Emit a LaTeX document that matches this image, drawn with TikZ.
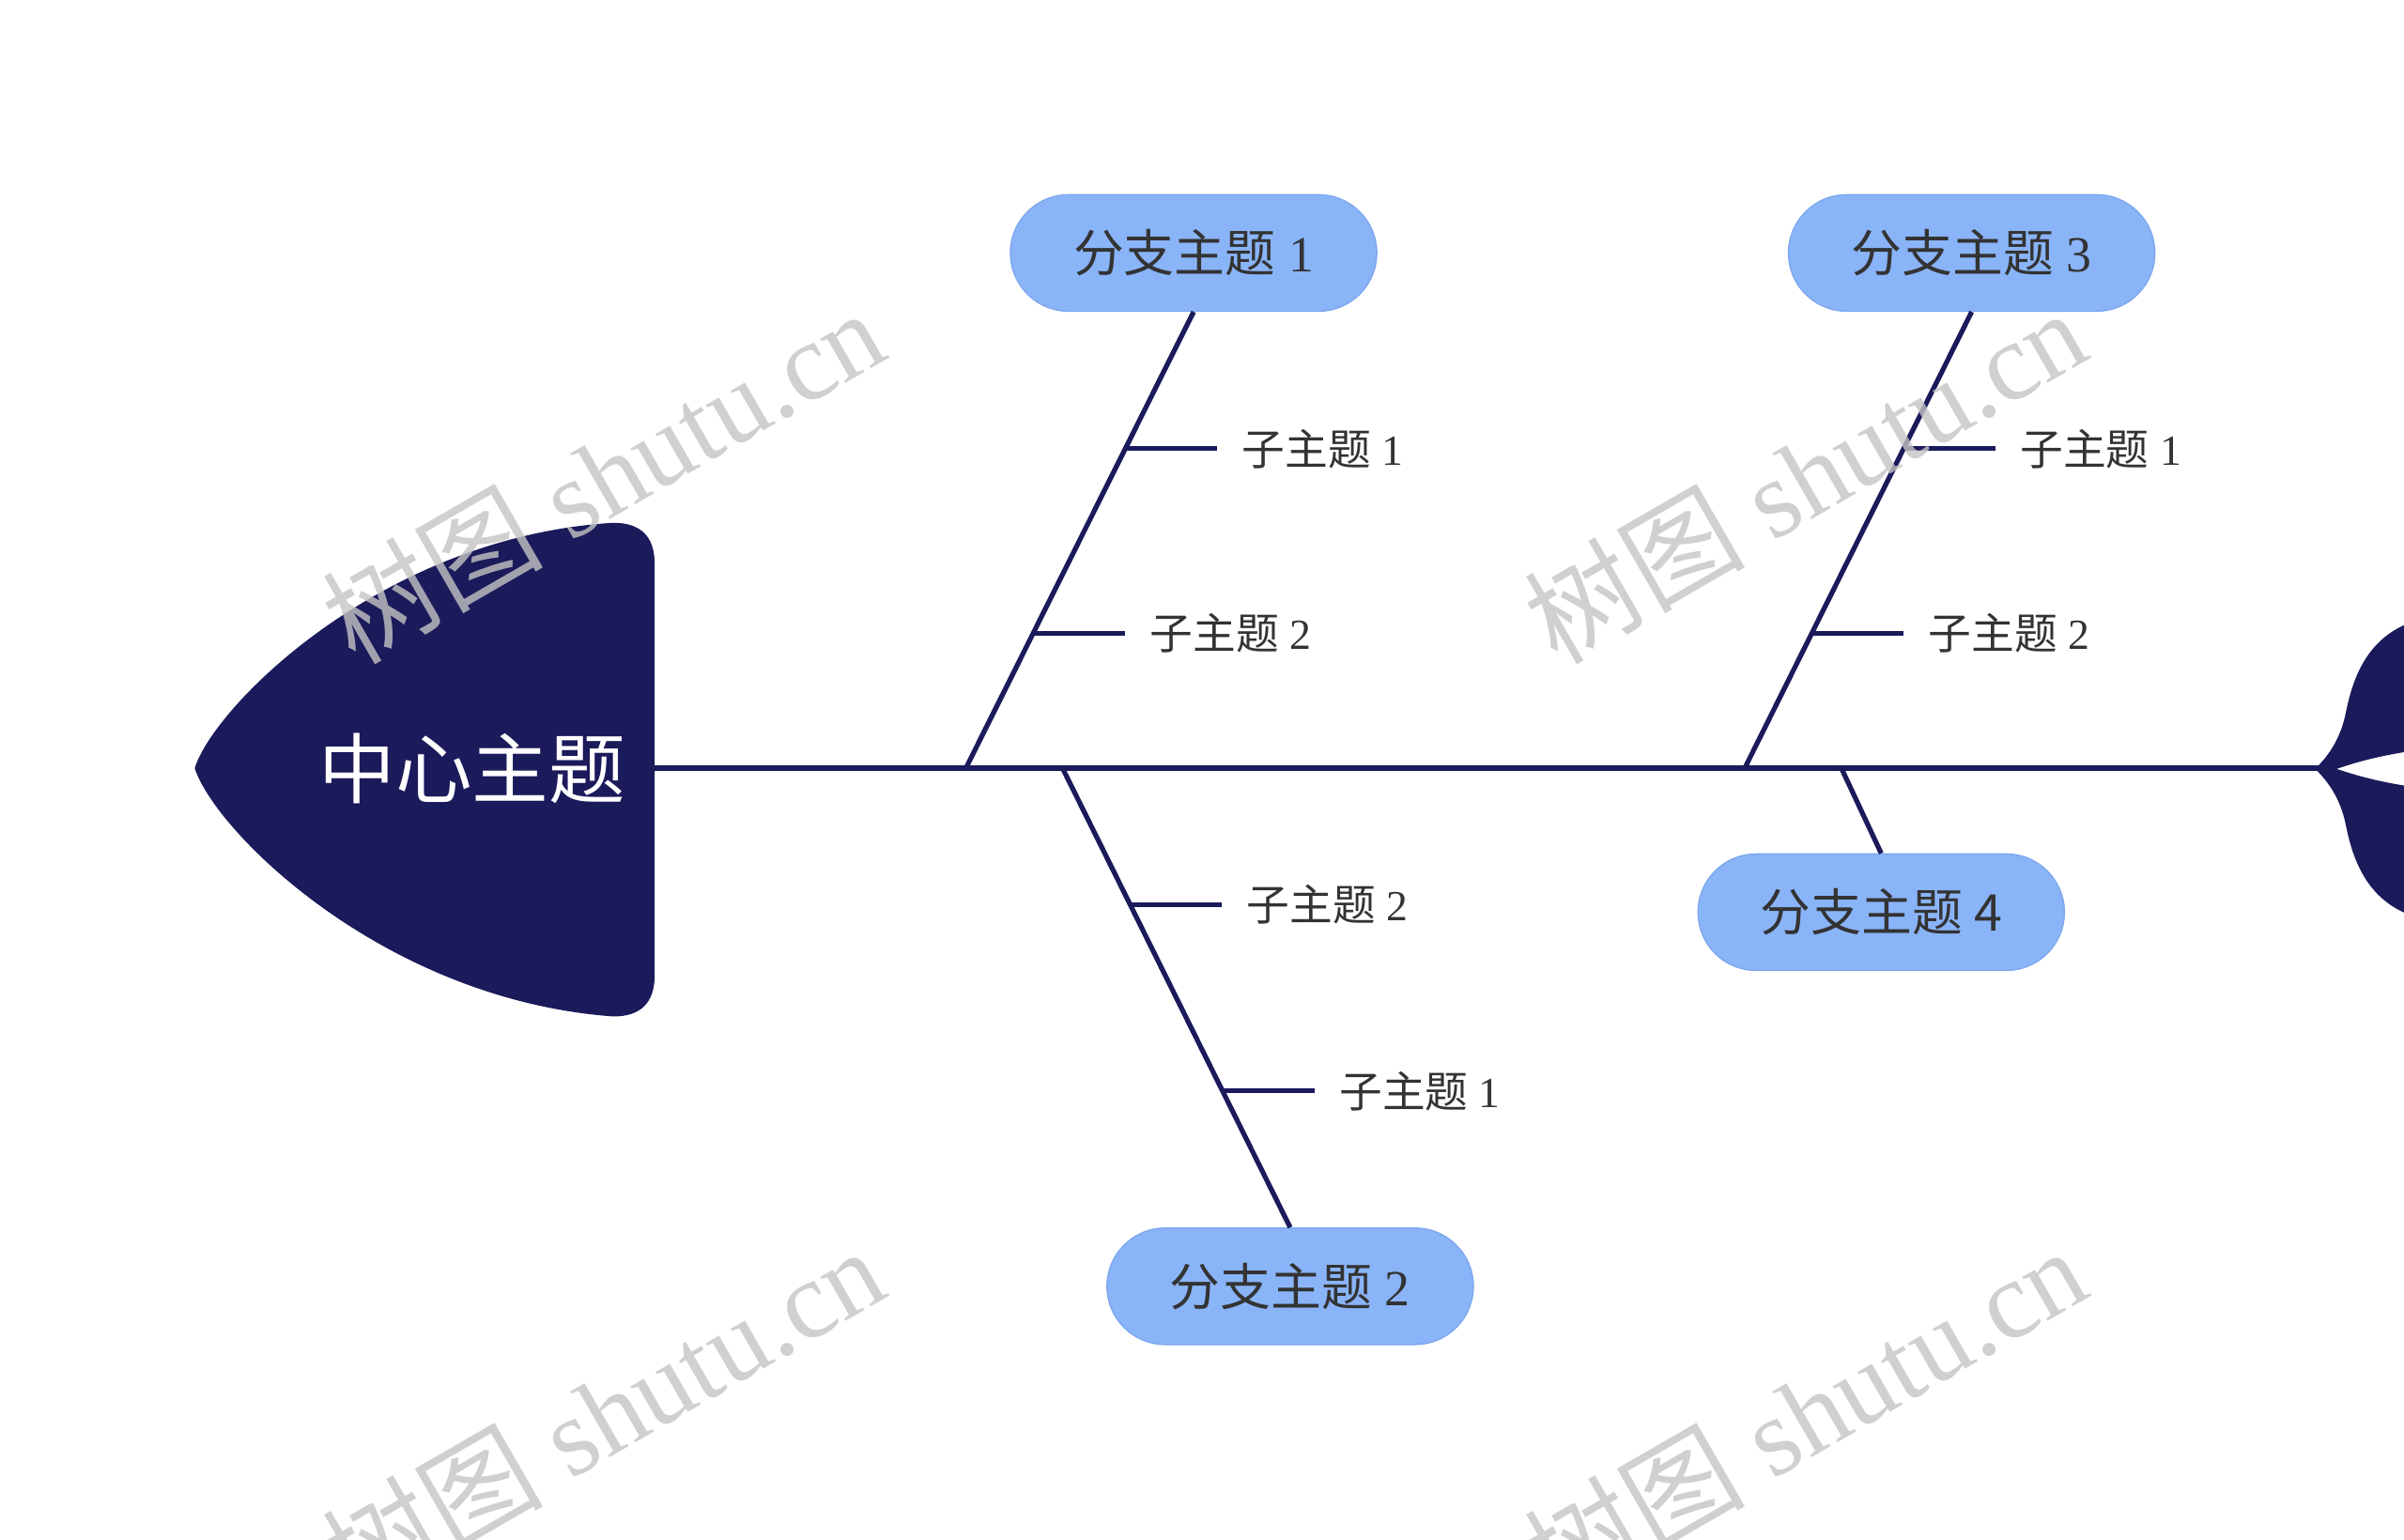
\documentclass[tikz,border=0pt]{standalone}
\usepackage{fontspec}
\setmainfont{Liberation Serif}
\newfontfamily\cjk{Noto Sans CJK SC}
\usetikzlibrary{calc}
\definecolor{navy}{HTML}{1B1A5B}
\definecolor{pillfill}{HTML}{8AB4F8}
\definecolor{pilledge}{HTML}{7DA7EE}
\definecolor{txt}{HTML}{333333}
\definecolor{wm}{HTML}{C4C4C4}
\begin{document}
\begin{tikzpicture}[x=1pt,y=-1pt,
  bone/.style={draw=navy,line width=3.2pt},
  branchbox/.style={fill=pillfill,draw=pilledge,line width=0.8pt,rounded corners=38pt,minimum width=239pt,minimum height=76pt,inner sep=0pt,text=txt,font=\fontsize{33}{40}\selectfont},
  subtext/.style={anchor=west,inner xsep=16pt,inner ysep=0pt,text=txt,font=\fontsize{28}{34}\selectfont},
  wmark/.style={rotate=30,text=wm,opacity=0.8,font=\fontsize{72}{86}\selectfont}
]
\useasboundingbox (0,0) rectangle (1568,1004);
\clip (0,0) rectangle (1568,1004);

% head
\fill[navy] (127,501) .. controls (140,460) and (250,350) .. (400,341)
  .. controls (418,341) and (427,350) .. (427,368) -- (427,636)
  .. controls (427,654) and (418,663) .. (400,663)
  .. controls (250,652) and (140,542) .. (127,501) -- cycle;
\node[text=white,font=\cjk\fontsize{50}{60}\selectfont,inner sep=0pt] (ct) at (308,501) {中心主题};

% spine
\coordinate (hd) at (427,501);
\coordinate (tl) at (1512,501);
\draw[bone] (hd) -- (tl);

% tail
\fill[navy] (1510,501.5) .. controls (1520,492) and (1527,480) .. (1530,465)
  .. controls (1535,440) and (1545,415) .. (1575,405) -- (1575,489.5)
  .. controls (1545,494) and (1532,499) .. (1524,501.5)
  .. controls (1532,504) and (1545,509) .. (1575,513.5) -- (1575,598)
  .. controls (1545,588) and (1535,563) .. (1530,538)
  .. controls (1527,523) and (1520,511) .. (1510,501.5) -- cycle;

% branch points on spine
\coordinate (b1) at (630,501);
\coordinate (b2) at (693,501);
\coordinate (b3) at (1138,501);
\coordinate (b4) at (1201,501);

% branch boxes
\node[branchbox] (n1) at (778.5,165) {{\cjk 分支主题} 1};
\node[branchbox] (n2) at (841.5,839) {{\cjk 分支主题} 2};
\node[branchbox] (n3) at (1286,165) {{\cjk 分支主题} 3};
\node[branchbox] (n4) at (1227,595) {{\cjk 分支主题 4}};

\draw[bone] (b1) -- (n1.south);
\draw[bone] (b2) -- (n2.north);
\draw[bone] (b3) -- (n3.south);
\draw[bone] (b4) -- (n4.north);

% sub topics branch 1
\coordinate (s11) at ($(b1)!0.70!(n1.south)$);
\coordinate (s12) at ($(b1)!0.296!(n1.south)$);
\node[subtext] (t11) at ([xshift=60pt]s11) {{\cjk 子主题} 1};
\node[subtext] (t12) at ([xshift=60pt]s12) {{\cjk 子主题} 2};
\draw[bone] (s11) -- (t11.west);
\draw[bone] (s12) -- (t12.west);

% sub topics branch 3
\coordinate (s31) at ($(b3)!0.70!(n3.south)$);
\coordinate (s32) at ($(b3)!0.296!(n3.south)$);
\node[subtext] (t31) at ([xshift=60pt]s31) {{\cjk 子主题} 1};
\node[subtext] (t32) at ([xshift=60pt]s32) {{\cjk 子主题} 2};
\draw[bone] (s31) -- (t31.west);
\draw[bone] (s32) -- (t32.west);

% sub topics branch 2
\coordinate (s21) at ($(b2)!0.297!(n2.north)$);
\coordinate (s22) at ($(b2)!0.703!(n2.north)$);
\node[subtext] (t21) at ([xshift=60pt]s21) {{\cjk 子主题} 2};
\node[subtext] (t22) at ([xshift=60pt]s22) {{\cjk 子主题} 1};
\draw[bone] (s21) -- (t21.west);
\draw[bone] (s22) -- (t22.west);

% watermarks
\node[wmark] (w1) at (393,310) {{\cjk 树图} shutu.cn};
\node[wmark] (w2) at (1177,310) {{\cjk 树图} shutu.cn};
\node[wmark] (w3) at (393,922) {{\cjk 树图} shutu.cn};
\node[wmark] (w4) at (1177,922) {{\cjk 树图} shutu.cn};
\end{tikzpicture}
\end{document}
